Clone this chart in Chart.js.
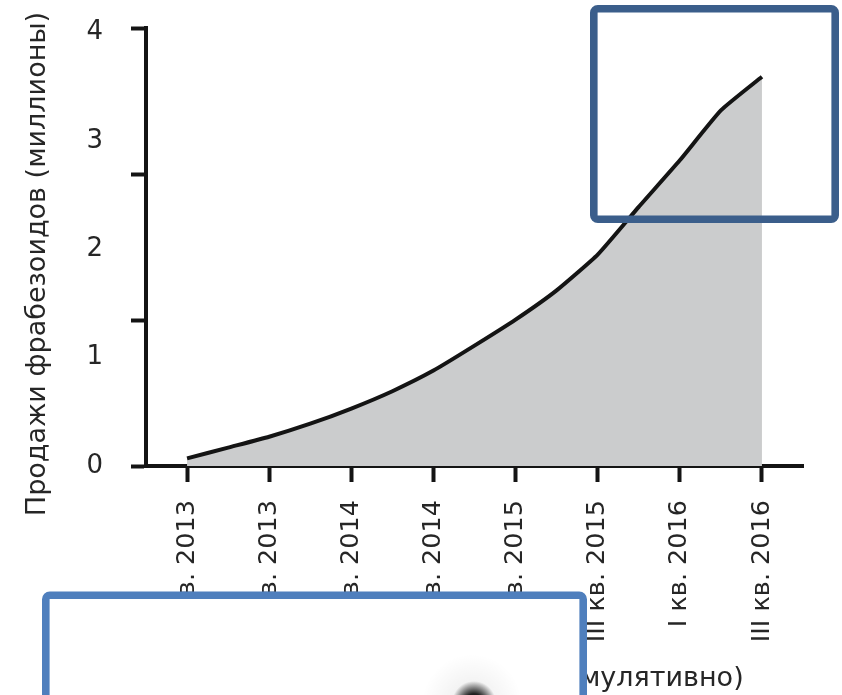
<!DOCTYPE html>
<html><head><meta charset="utf-8">
<script src="https://cdn.jsdelivr.net/npm/chart.js@4/dist/chart.umd.min.js"></script>
<style>html,body{margin:0;padding:0;background:#fff;}#wrap{width:842px;height:695px;position:relative;}</style>
</head><body><div id="wrap"><canvas id="c" width="842" height="695"></canvas></div>
<script>
// ---- data ----
const quarters = ["I кв. 2013","II кв. 2013","III кв. 2013","IV кв. 2013","I кв. 2014","II кв. 2014","III кв. 2014","IV кв. 2014","I кв. 2015","II кв. 2015","III кв. 2015","IV кв. 2015","I кв. 2016","II кв. 2016","III кв. 2016"];
const cumulativeSales = [0.07,0.17,0.27,0.39,0.53,0.69,0.88,1.11,1.35,1.62,1.95,2.39,2.82,3.28,3.59];
const xTickIndices = [0,2,4,6,8,10,12,14];
const yTickLabels = [0,1,2,3,4];
const yAxisTitle = "Продажи фрабезоидов (миллионы)";
const xAxisTitle = "Финансовые кварталы (кумулятивно)";

// ---- styling ----
const INK = '#141414';
const TXT = '#262626';
const FONT = 'DejaVu Sans';
const yMax = 4.04;
const yMarkValues = [0, yMax/3, 2*yMax/3, yMax];
const isMark = v => yMarkValues.some(m => Math.abs(m - v) < 1e-6);

const overlay = {
  id: 'overlay',
  afterDraw(chart) {
    const c = chart.ctx;
    c.save();
    // y-axis title
    c.save();
    c.translate(38, 264);
    c.rotate(-Math.PI / 2);
    c.font = '27px "' + FONT + '"';
    c.fillStyle = TXT;
    c.textAlign = 'center';
    c.textBaseline = 'middle';
    c.fillText(yAxisTitle, 0, 0);
    c.restore();
    // lower box (white interior)
    c.fillStyle = '#ffffff';
    c.beginPath();
    c.roundRect(45.8, 595.3, 537.4, 110, 4);
    c.fill();
    // blurry dark smudge inside
    let g = c.createRadialGradient(472, 704, 2, 472, 704, 50);
    g.addColorStop(0, 'rgba(0,0,0,0.08)');
    g.addColorStop(1, 'rgba(0,0,0,0)');
    c.fillStyle = g;
    c.fillRect(400, 650, 130, 50);
    g = c.createRadialGradient(474, 703, 1, 474, 703, 22);
    g.addColorStop(0, 'rgba(0,0,0,1)');
    g.addColorStop(0.4, 'rgba(0,0,0,0.85)');
    g.addColorStop(1, 'rgba(0,0,0,0)');
    c.fillStyle = g;
    c.fillRect(440, 670, 70, 30);
    c.lineWidth = 7.6;
    c.strokeStyle = '#4f7fbd';
    c.beginPath();
    c.roundRect(45.8, 595.3, 537.4, 110, 4);
    c.stroke();
    // upper right box
    c.strokeStyle = '#3b5e8b';
    c.beginPath();
    c.roundRect(593.8, 8.8, 241.4, 210.4, 4);
    c.stroke();
    c.restore();
  }
};

new Chart(document.getElementById('c'), {
  type: 'line',
  data: {
    datasets: [{
      data: cumulativeSales.map((v, i) => ({x: i, y: v})),
      borderColor: INK,
      borderWidth: 4,
      backgroundColor: '#cbcccd',
      fill: 'origin',
      pointRadius: 0,
      tension: 0.15
    }]
  },
  options: {
    responsive: false,
    animation: false,
    devicePixelRatio: 1,
    layout: {padding: {top: 28, right: 39, left: 0, bottom: 0}},
    plugins: {legend: {display: false}, tooltip: {enabled: false}},
    scales: {
      x: {
        type: 'linear', min: -1, max: 15,
        afterBuildTicks: s => { s.ticks = xTickIndices.map(v => ({value: v})); },
        afterFit: s => { s.height = 229; },
        ticks: {autoSkip: false, minRotation: 90, maxRotation: 90, padding: 18, color: TXT,
          font: {family: FONT, size: 25.5}, callback: v => quarters[v] ?? ''},
        grid: {drawOnChartArea: false, drawTicks: true, tickLength: 16, tickWidth: 4, tickColor: INK},
        border: {display: true, color: INK, width: 4},
        title: {display: true, text: xAxisTitle, color: TXT, font: {family: FONT, size: 27}, padding: {top: 0, bottom: 0}}
      },
      y: {
        type: 'linear', min: 0, max: yMax,
        afterBuildTicks: s => {
          const vals = [...new Set([...yTickLabels, ...yMarkValues])].sort((a, b) => a - b);
          s.ticks = vals.map(v => ({value: v}));
        },
        afterFit: s => { s.width = 146; s.paddingTop = 0; s.paddingBottom = 0; },
        ticks: {autoSkip: false, padding: 28, color: TXT, font: {family: FONT, size: 26},
          callback: v => yTickLabels.includes(v) ? String(v) : ''},
        grid: {drawOnChartArea: false, drawTicks: true, tickLength: 15, tickWidth: 4,
          tickColor: ctx => (ctx.tick && isMark(ctx.tick.value)) ? INK : 'rgba(0,0,0,0)'},
        border: {display: true, color: INK, width: 4},
        title: {display: false}
      }
    }
  },
  plugins: [overlay]
});
</script></body></html>
